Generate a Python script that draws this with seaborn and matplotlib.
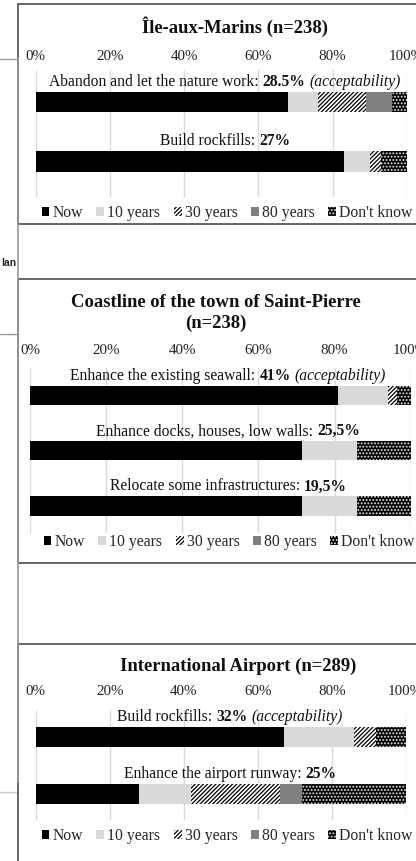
import matplotlib
matplotlib.use("Agg")
import numpy as np
import pandas as pd
import matplotlib.pyplot as plt
import seaborn as sns
from matplotlib.patches import Patch, Rectangle
from matplotlib.lines import Line2D
from matplotlib.transforms import IdentityTransform

# ---------------- data ----------------
segments = ["Now", "10 years", "30 years", "80 years", "Don't know"]
tick_values = [0, 20, 40, 60, 80, 100]
tick_labels = ["0%", "20%", "40%", "60%", "80%", "100%"]

p1_title = ["Île-aux-Marins (n=238)"]
p1_options = ["Abandon and let the nature work", "Build rockfills"]
p1_accept = ["28.5%", "27%"]
p1_now = [68, 83]
p1_y10 = [8, 7]
p1_y30 = [13, 3]
p1_y80 = [7, 0]
p1_dk = [4, 7]

p2_title = ["Coastline of the town of Saint-Pierre", "(n=238)"]
p2_options = ["Enhance the existing seawall", "Enhance docks, houses, low walls",
              "Relocate some infrastructures"]
p2_accept = ["41%", "25,5%", "19,5%"]
p2_now = [81, 71.5, 71.5]
p2_y10 = [13, 14.5, 14.5]
p2_y30 = [2.5, 0, 0]
p2_y80 = [0, 0, 0]
p2_dk = [3.5, 14, 14]

p3_title = ["International Airport (n=289)"]
p3_options = ["Build rockfills", "Enhance the airport runway"]
p3_accept = ["32%", "25%"]
p3_now = [67, 28]
p3_y10 = [19, 14]
p3_y30 = [6, 24]
p3_y80 = [0, 6]
p3_dk = [8, 28]

acceptability_note = "(acceptability)"

# ---------------- style ----------------
sns.set_style("white")
plt.rcParams["font.family"] = ["Liberation Serif", "DejaVu Serif"]
plt.rcParams["hatch.linewidth"] = 0.9

STYLE = {
    "Now": dict(color="black", edgecolor="black", hatch=None),
    "10 years": dict(color="#d9d9d9", edgecolor="#d9d9d9", hatch=None),
    "30 years": dict(color="white", edgecolor="black", hatch="////////"),
    "80 years": dict(color="#808080", edgecolor="#808080", hatch=None),
    "Don't know": dict(color="black", edgecolor="#e8e8e8", hatch="....."),
}

W, H = 416, 861
fig = plt.figure(figsize=(W / 100, H / 100), dpi=100)
ID = IdentityTransform()
BAR_H = 0.345


def fy(y):
    return H - y


def rich_line(pieces, cx, base_y, fs=11.25):
    """pieces: list of (text, weight, style); centred at cx (px), baseline at base_y (display px)."""
    r = fig.canvas.get_renderer()
    objs = []
    widths = []
    for txt, wt, st in pieces:
        t = fig.text(0, base_y, txt, fontsize=fs, fontweight=wt, fontstyle=st,
                     transform=ID, va="baseline", ha="left", color="#111111")
        objs.append(t)
        widths.append(t.get_window_extent(r).width)
    t1 = fig.text(0, 0, "x x", fontsize=fs, transform=ID)
    t2 = fig.text(0, 0, "xx", fontsize=fs, transform=ID)
    sp = t1.get_window_extent(r).width - t2.get_window_extent(r).width
    t1.remove(); t2.remove()
    total = sum(widths) + sp * (len(widths) - 1)
    x = cx - total / 2
    for t, w in zip(objs, widths):
        t.set_x(x)
        x += w + sp


def draw_panel(geom, titles, options, accept, cols):
    l, r, t, b = geom["axes"]
    ax = fig.add_axes([l / W, 1 - b / H, (r - l) / W, (b - t) / H])
    df = pd.DataFrame({"option": options})
    for seg, vals in zip(segments, cols):
        df[seg] = vals
    cum = df[segments].cumsum(axis=1)
    cum["option"] = options
    for seg in reversed(segments):
        st = STYLE[seg]
        sns.barplot(data=cum, x=seg, y="option", orient="y", order=options,
                    width=BAR_H, color=st["color"], edgecolor=st["edgecolor"],
                    hatch=st["hatch"], linewidth=0, errorbar=None, ax=ax)
    n = len(options)
    ax.set_xlim(0, 100)
    ax.set_ylim(n - 1 + geom["ybot"], -geom["ytop"])
    ax.set_xticks(tick_values)
    ax.set_xticklabels(tick_labels)
    ax.xaxis.tick_top()
    ax.tick_params(axis="x", length=0, pad=geom["pad"], labelsize=10.8,
                   labeltop=True, labelbottom=False, colors="#222222")
    ax.set_yticks([])
    ax.set_xlabel("")
    ax.set_ylabel("")
    for s in ax.spines.values():
        s.set_visible(False)
    ax.grid(axis="x", color="#d9d9d9", lw=1.0)
    ax.grid(axis="y", visible=False)
    ax.set_axisbelow(True)
    ax.patch.set_alpha(0)

    # titles
    for txt, yb in zip(titles, geom["title_y"]):
        fig.text(geom["title_x"], fy(yb), txt, fontsize=13.4, fontweight="bold",
                 ha="center", va="baseline", transform=ID, color="#111111")

    # bar labels
    for i, (opt, acc) in enumerate(zip(options, accept)):
        top = ax.transData.transform((0, i - BAR_H / 2))[1]
        pieces = [(opt + ":", "normal", "normal"), (acc, "bold", "normal")]
        if i == 0:
            pieces.append((acceptability_note, "normal", "italic"))
        rich_line(pieces, geom["label_x"], top + 6)

    # legend
    handles = [Patch(facecolor=STYLE[s]["color"], edgecolor=STYLE[s]["edgecolor"],
                     hatch=STYLE[s]["hatch"], linewidth=0, label=s) for s in segments]
    ax.legend(handles=handles, loc="center", bbox_to_anchor=(geom["leg"][0], fy(geom["leg"][1])),
              bbox_transform=ID, ncol=5, frameon=False, fontsize=11.3,
              handlelength=0.5, handleheight=0.5, handletextpad=0.2,
              columnspacing=0.85, borderaxespad=0, borderpad=0)
    return ax


fig.canvas.draw()

geom1 = dict(axes=(35.7, 406.7, 70, 197), ytop=0.538, ybot=0.597, pad=5,
             title_x=235, title_y=[33], label_x=225, leg=(227, 213))
geom2 = dict(axes=(30, 410.7, 368, 533), ytop=0.498, ybot=0.489, pad=8,
             title_x=216, title_y=[307, 328], label_x=228, leg=(229, 542))
geom3 = dict(axes=(35.7, 405.7, 710, 820), ytop=0.466, ybot=0.454, pad=8.5,
             title_x=238, title_y=[671], label_x=230, leg=(227, 836))

draw_panel(geom1, p1_title, p1_options, p1_accept, [p1_now, p1_y10, p1_y30, p1_y80, p1_dk])
draw_panel(geom2, p2_title, p2_options, p2_accept, [p2_now, p2_y10, p2_y30, p2_y80, p2_dk])
draw_panel(geom3, p3_title, p3_options, p3_accept, [p3_now, p3_y10, p3_y30, p3_y80, p3_dk])

# ---------------- frames and page fragments ----------------
def hline(x0, x1, y, color, lw):
    fig.add_artist(Line2D([x0, x1], [fy(y), fy(y)], transform=ID, color=color, lw=lw))


def vline(x, y0, y1, color, lw):
    fig.add_artist(Line2D([x, x], [fy(y0), fy(y1)], transform=ID, color=color, lw=lw))


GRAY = "#9a9a9a"
DARK = "#3c3c3c"
hline(0, 18, 58.7, GRAY, 1.0)
hline(0, 18, 334, GRAY, 1.0)
hline(0, 16, 792, "#c8c8c8", 1.0)
vline(18, 58, 782, GRAY, 1.2)
fig.text(1, fy(263), "lan", fontsize=7.5, fontweight="bold", family=["Liberation Sans", "DejaVu Sans"],
         transform=ID, va="center", ha="left")

for top, bot in [(4, 224), (279, 563), (644, 875)]:
    fig.add_artist(Rectangle((17.5, fy(bot)), 430, bot - top, transform=ID,
                             fill=False, edgecolor=DARK, lw=1.1))

fig.savefig("out.png", dpi=100)
